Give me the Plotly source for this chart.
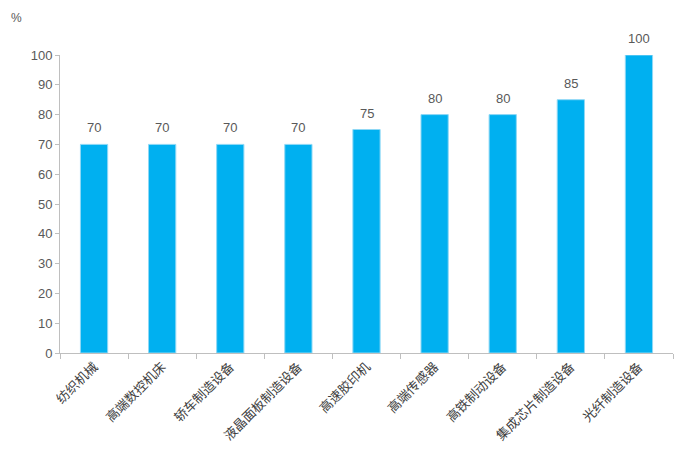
import plotly.graph_objects as go

categories = ["纺织机械", "高端数控机床", "轿车制造设备", "液晶面板制造设备", "高速胶印机",
              "高端传感器", "高铁制动设备", "集成芯片制造设备", "光纤制造设备"]
values = [70, 70, 70, 70, 75, 80, 80, 85, 100]
y_ticks = list(range(0, 101, 10))

num_font = "Liberation Sans Narrow, Liberation Sans, sans-serif"

fig = go.Figure()
fig.add_trace(go.Bar(
    x=categories, y=values,
    marker=dict(color="#00B0F0", line=dict(color="#8FD8F5", width=1)),
))
annotations = [dict(x=c, y=v, text=str(v), xref="x", yref="y", showarrow=False,
                    yanchor="bottom", yshift=7,
                    font=dict(family=num_font, size=13, color="#595959"))
               for c, v in zip(categories, values)]
annotations.append(dict(text="%", xref="paper", yref="paper", x=-0.083, y=1.155,
                        xanchor="left", yanchor="top", showarrow=False,
                        font=dict(family=num_font, size=12, color="#595959")))
fig.update_layout(
    width=686, height=445,
    margin=dict(l=52, r=21, t=47, b=100, autoexpand=False),
    paper_bgcolor="white", plot_bgcolor="white",
    bargap=0.6, showlegend=False,
    font=dict(family=num_font, color="#595959"),
    annotations=annotations,
)
fig.update_yaxes(range=[0, 100], tickvals=y_ticks, showgrid=False, showline=True,
                 linecolor="#BFBFBF", linewidth=1, ticks="outside", ticklen=4,
                 tickcolor="#BFBFBF", tickfont=dict(size=13, color="#595959"),
                 zeroline=False, automargin=False)
fig.update_xaxes(showgrid=False, showline=True, linecolor="#BFBFBF", linewidth=1,
                 ticks="outside", ticklen=5, tickcolor="#BFBFBF", tickson="boundaries",
                 tickangle=-45, automargin=False,
                 tickfont=dict(family="Noto Sans CJK SC, sans-serif", size=13, color="#404040"))
fig.write_html("out.html")
